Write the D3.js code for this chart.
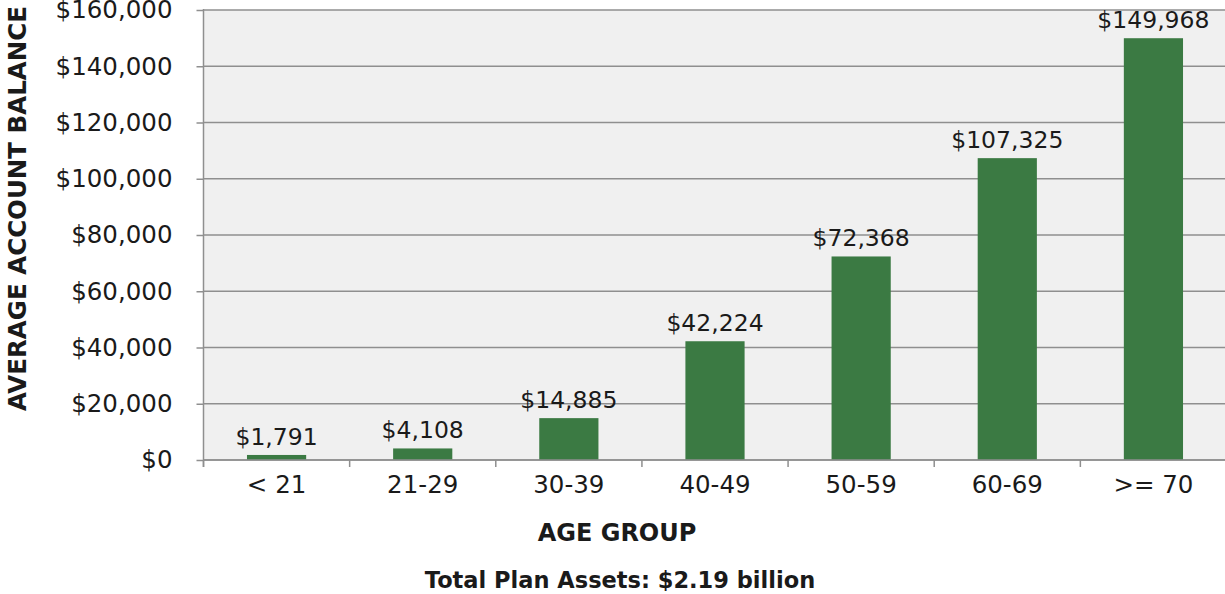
<!DOCTYPE html>
<html>
<head>
<meta charset="utf-8">
<script src="https://cdn.jsdelivr.net/npm/d3@7"></script>
<style>
  html, body { margin: 0; padding: 0; background: #ffffff; }
  svg { display: block; }
  text { font-family: "DejaVu Sans", sans-serif; fill: #1a1a1a; }
</style>
</head>
<body>
<svg id="chart" width="1225" height="594"></svg>
<script>
// Average account balance by participant age group
const ageGroups = ["< 21", "21-29", "30-39", "40-49", "50-59", "60-69", ">= 70"];
const avgBalance = [1791, 4108, 14885, 42224, 72368, 107325, 149968];
const yTicks = [0, 20000, 40000, 60000, 80000, 100000, 120000, 140000, 160000];
const yTitle = "AVERAGE ACCOUNT BALANCE";
const xTitle = "AGE GROUP";
const footnote = "Total Plan Assets: $2.19 billion";

const W = 1225, H = 594;
const m = { left: 203.5, right: 1226.5, top: 10, bottom: 460 };
const gridColor = "#8f8f8f";
const labelSize = 24.5;

const svg = d3.select("#chart");
const fmt = d3.format("$,");

const x = d3.scaleBand().domain(ageGroups).range([m.left, m.right]).padding(0);
const y = d3.scaleLinear().domain([0, 160000]).range([m.bottom, m.top]);
const barW = x.bandwidth() * 0.405;
const rows = ageGroups.map((g, i) => ({ g, v: avgBalance[i] }));

// plot background
svg.append("rect")
  .attr("x", m.left).attr("y", m.top)
  .attr("width", W - m.left).attr("height", m.bottom - m.top)
  .attr("fill", "#f0f0f0");

// horizontal gridlines
svg.append("g")
  .selectAll("line")
  .data(yTicks)
  .join("line")
  .attr("x1", m.left).attr("x2", W)
  .attr("y1", d => y(d)).attr("y2", d => y(d))
  .attr("stroke", gridColor).attr("stroke-width", 1.5);

// bars
svg.append("g")
  .selectAll("rect")
  .data(rows)
  .join("rect")
  .attr("x", d => x(d.g) + (x.bandwidth() - barW) / 2)
  .attr("width", barW)
  .attr("y", d => y(d.v))
  .attr("height", d => y(0) - y(d.v))
  .attr("fill", "#3b7a43");

// value labels above each bar
svg.append("g")
  .selectAll("text")
  .data(rows)
  .join("text")
  .attr("x", d => x(d.g) + x.bandwidth() / 2)
  .attr("y", d => y(d.v) - 10)
  .attr("text-anchor", "middle")
  .attr("font-size", 23.5)
  .text(d => fmt(d.v));

// y axis
const yAxis = svg.append("g")
  .attr("transform", `translate(${m.left},0)`)
  .call(d3.axisLeft(y).tickValues(yTicks).tickFormat(fmt).tickSize(7).tickPadding(24));
yAxis.select(".domain").attr("stroke", gridColor).attr("stroke-width", 1.5)
  .attr("d", `M0,${m.top - 1}V${m.bottom + 7}`);
yAxis.selectAll(".tick line").attr("stroke", gridColor).attr("stroke-width", 1.5);
yAxis.selectAll(".tick text")
  .attr("font-size", labelSize)
  .attr("font-family", "DejaVu Sans, sans-serif")
  .attr("fill", "#1a1a1a");

// x axis: ticks sit on the band boundaries
const xAxis = svg.append("g")
  .attr("transform", `translate(0,${m.bottom})`);
xAxis.append("line")
  .attr("x1", m.left).attr("x2", W)
  .attr("stroke", gridColor).attr("stroke-width", 1.5);
xAxis.selectAll("line.tk")
  .data(ageGroups)
  .join("line")
  .attr("class", "tk")
  .attr("x1", d => x(d)).attr("x2", d => x(d))
  .attr("y1", 0).attr("y2", 7)
  .attr("stroke", gridColor).attr("stroke-width", 1.5);
xAxis.selectAll("text")
  .data(ageGroups)
  .join("text")
  .attr("x", d => x(d) + x.bandwidth() / 2)
  .attr("y", 33)
  .attr("text-anchor", "middle")
  .attr("font-size", labelSize)
  .text(d => d);

// axis titles and footnote
svg.append("text")
  .attr("transform", `translate(26,208.5) rotate(-90)`)
  .attr("text-anchor", "middle")
  .attr("font-size", 24.5)
  .attr("font-weight", 700)
  .text(yTitle);

svg.append("text")
  .attr("x", 617).attr("y", 541)
  .attr("text-anchor", "middle")
  .attr("font-size", 24)
  .attr("font-weight", 700)
  .text(xTitle);

svg.append("text")
  .attr("x", 620).attr("y", 588)
  .attr("text-anchor", "middle")
  .attr("font-size", 22.5)
  .attr("font-weight", 700)
  .text(footnote);
</script>
</body>
</html>
